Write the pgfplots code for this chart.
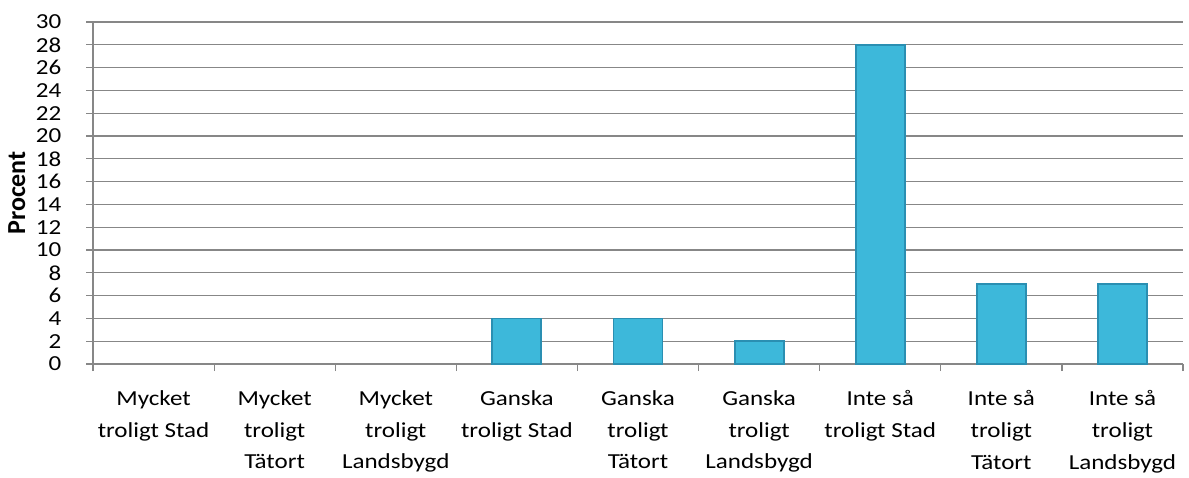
\documentclass[border=0pt]{standalone}
\usepackage{pgfplots}
\pgfplotsset{compat=1.18}
\usepackage{fontspec}
\setmainfont{Carlito}
\definecolor{barface}{HTML}{3DB8DA}
\definecolor{baredge}{HTML}{2A8FB2}
\definecolor{gridgray}{HTML}{878787}

\begin{document}
\begin{tikzpicture}
\begin{axis}[
    scale only axis,
    width=545pt, height=171pt,
    xmin=-0.5, xmax=8.5,
    ymin=0, ymax=30,
    ytick={0,2,...,30},
    xtick={0,...,8},
    xticklabels={
        {Mycket\\troligt Stad},
        {Mycket\\troligt\\Tätort},
        {Mycket\\troligt\\Landsbygd},
        {Ganska\\troligt Stad},
        {Ganska\\troligt\\Tätort},
        {Ganska\\troligt\\Landsbygd},
        {Inte så\\troligt Stad},
        {Inte så\\troligt\\Tätort},
        {Inte så\\troligt\\Landsbygd}},
    minor xtick={-0.5,0.5,...,8.5},
    major x tick style={draw=none},
    minor tick length=3.5pt,
    major tick length=3.5pt,
    tick align=outside,
    tick pos=left,
    tick style={gridgray, line width=0.6pt},
    ymajorgrids,
    major grid style={gridgray, line width=0.6pt},
    axis x line*=bottom,
    axis y line*=left,
    axis line style={gridgray, line width=0.6pt, -},
    ylabel={\textbf{Procent}},
    every axis y label/.style={at={(axis description cs:-0.07,0.5)},
        rotate=90, anchor=center, font=\fontsize{13}{14}\selectfont},
    xticklabel style={align=center, font=\fontsize{10.7}{15.8}\selectfont,
        xscale=1.17, yshift=-6.3pt},
    yticklabel style={font=\fontsize{10.7}{10}\selectfont, xscale=1.17, xshift=-7pt},
    /pgf/number format/assume math mode=true,
    ybar, bar width=24.5pt,
    unbounded coords=discard,
    y filter/.expression={y==0 ? nan : y},
]
\addplot[fill=barface, draw=baredge, line width=0.9pt] coordinates {
    (0,0) (1,0) (2,0) (3,4) (4,4) (5,2) (6,28) (7,7) (8,7)
};
\end{axis}
\pgfresetboundingbox
\path ([shift={(-46.5pt,-56.5pt)}]current axis.south west)
  rectangle ([shift={(3pt,11pt)}]current axis.north east);
\end{tikzpicture}
\end{document}
